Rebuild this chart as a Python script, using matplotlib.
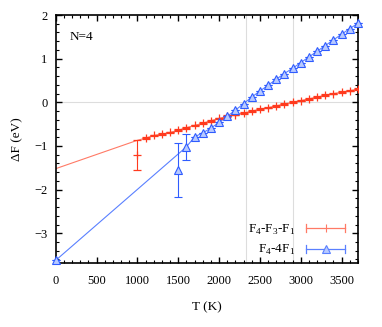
import matplotlib
matplotlib.use("Agg")
import matplotlib.pyplot as plt
from matplotlib.ticker import MultipleLocator
from matplotlib.legend_handler import HandlerBase
from matplotlib.lines import Line2D

plt.rcParams['font.family'] = ['Liberation Serif', 'DejaVu Serif']
plt.rcParams['mathtext.fontset'] = 'custom'
plt.rcParams['mathtext.rm'] = 'Liberation Serif'

# red series: F4-F3-F1
red_line_T = [0, 1000, 1100, 1200, 1300, 1400, 1500, 1600, 1700, 1800, 1900, 2000,
              2100, 2200, 2300, 2400, 2500, 2600, 2700, 2800, 2900, 3000,
              3100, 3200, 3300, 3400, 3500, 3600, 3700]
red_line_v = [-1.52, -0.87, -0.82, -0.76, -0.73, -0.69, -0.64, -0.58, -0.53, -0.48, -0.42, -0.37,
              -0.32, -0.28, -0.25, -0.20, -0.16, -0.12, -0.08, -0.04, 0.00, 0.04,
              0.08, 0.12, 0.16, 0.20, 0.23, 0.27, 0.30]
red_pts_T = [1000] + red_line_T[2:]
red_pts_v = [-1.21] + red_line_v[2:]
red_pts_err = [0.34] + [0.02] * (len(red_line_T) - 2)

# blue series: F4-4F1
blue_line_T = [0, 1600, 1700, 1800, 1900, 2000, 2100, 2200, 2300, 2400, 2500, 2600,
               2700, 2800, 2900, 3000, 3100, 3200, 3300, 3400, 3500, 3600, 3700]
blue_line_v = [-3.62, -1.02, -0.79, -0.70, -0.59, -0.46, -0.32, -0.18, -0.03, 0.12, 0.26, 0.39,
               0.53, 0.66, 0.78, 0.91, 1.04, 1.17, 1.30, 1.43, 1.56, 1.69, 1.81]
blue_pts_T = [0, 1500] + blue_line_T[1:]
blue_pts_v = [-3.62, -1.55] + blue_line_v[1:]
blue_pts_err = [0.0, 0.61, 0.30] + [0.0] * (len(blue_line_T) - 2)

zero_cross_T = [2330, 2900]

red_c = '#ff3a1e'
red_l = '#ff7a66'
blue_c = '#2f5cff'
blue_l = '#5a80ff'
blue_fill = '#b8caff'


class HErrHandler(HandlerBase):
    def __init__(self, color, marker, mfc, ms):
        super().__init__()
        self.color, self.marker, self.mfc, self.ms = color, marker, mfc, ms

    def create_artists(self, legend, orig_handle, xdescent, ydescent, width, height,
                       fontsize, trans):
        y = height / 2.0 - ydescent
        x0, x1 = -xdescent, width - xdescent
        cap = 3.0
        arts = [
            Line2D([x0, x1], [y, y], color=self.color, lw=0.9, transform=trans),
            Line2D([x0, x0], [y - cap, y + cap], color=self.color, lw=0.9, transform=trans),
            Line2D([x1, x1], [y - cap, y + cap], color=self.color, lw=0.9, transform=trans),
            Line2D([(x0 + x1) / 2], [y], marker=self.marker, color=self.color,
                   mfc=self.mfc, mec=self.color, ms=self.ms, mew=0.8, ls='none',
                   transform=trans),
        ]
        return arts


fig = plt.figure(figsize=(3.82, 3.27), dpi=100)
ax = fig.add_axes([0.146, 0.196, 0.791, 0.758])

ax.axhline(0, color='#dddddd', lw=0.8, zorder=0)
for t in zero_cross_T:
    ax.axvline(t, color='#dddddd', lw=0.8, zorder=0)

ax.plot(red_line_T, red_line_v, color=red_l, lw=0.8, zorder=2)
ax.plot(blue_line_T, blue_line_v, color=blue_l, lw=0.8, zorder=2)

ax.errorbar(red_pts_T, red_pts_v, yerr=red_pts_err, fmt='+', color=red_c,
            ms=6, mew=0.9, elinewidth=0.8, capsize=3, capthick=0.8, zorder=3)
ax.errorbar(blue_pts_T, blue_pts_v, yerr=blue_pts_err, fmt='^', color=blue_c,
            mfc=blue_fill, mec=blue_c, ms=6, mew=0.8, elinewidth=0.8,
            capsize=3, capthick=0.8, zorder=4, clip_on=False)

ax.set_xlim(0, 3700)
ax.set_ylim(-3.68, 2)
ax.xaxis.set_major_locator(MultipleLocator(500))
ax.xaxis.set_minor_locator(MultipleLocator(100))
ax.yaxis.set_major_locator(MultipleLocator(1))
ax.yaxis.set_minor_locator(MultipleLocator(0.2))
ax.tick_params(which='both', direction='in', top=True, right=True, labelsize=9)
ax.tick_params(which='major', length=4, width=1)
ax.tick_params(which='minor', length=2, width=0.8)
ax.tick_params(axis='x', pad=9)
ax.tick_params(axis='y', pad=6)
for s in ax.spines.values():
    s.set_linewidth(1.2)

ax.set_xlabel('T (K)', fontsize=9.5, labelpad=10)
ax.set_ylabel('ΔF (eV)', fontsize=9.5, labelpad=8)
ax.text(0.045, 0.9, 'N=4', transform=ax.transAxes, fontsize=9.5)

h_red = Line2D([], [], color=red_c)
h_blue = Line2D([], [], color=blue_c)
leg = ax.legend([h_red, h_blue], [r'F$_4$-F$_3$-F$_1$', r'F$_4$-4F$_1$'],
                handler_map={h_red: HErrHandler(red_l, '|', red_l, 6),
                             h_blue: HErrHandler(blue_l, '^', blue_fill, 6)},
                loc='lower right', frameon=False, fontsize=9.5, markerfirst=False,
                handlelength=3.0, borderaxespad=0.2, labelspacing=0.5,
                handletextpad=0.8, bbox_to_anchor=(0.985, -0.01))

fig.savefig('out.png', dpi=100)
